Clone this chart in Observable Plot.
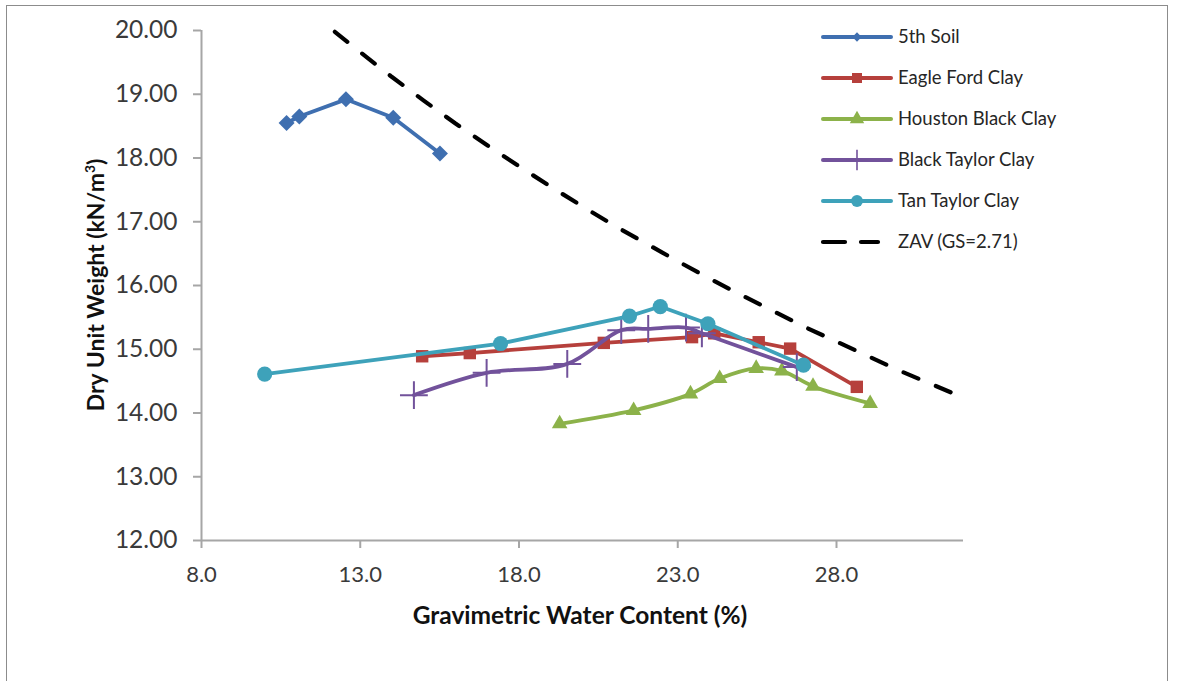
<!DOCTYPE html>
<html>
<head>
<meta charset="utf-8">
<script src="https://cdn.jsdelivr.net/npm/d3@7"></script>
<script src="https://cdn.jsdelivr.net/npm/@observablehq/plot@0.6"></script>
<style>
  body { margin: 0; background: #fff; }
  #chart { position: relative; width: 1177px; height: 681px; overflow: hidden; font-family: Lato, "Open Sans", sans-serif; }
  #frame { position: absolute; left: 6px; top: 5px; width: 1162px; height: 720px; border: 1.5px solid #8c8c8c; box-sizing: border-box; }
  #plot { position: absolute; left: 0; top: 0; }
  .axis-title { position: absolute; font-weight: 700; color: #111; white-space: nowrap; }
  #ytitle { left: 95px; top: 285px; transform: translate(-50%, -50%) rotate(-90deg); font-size: 23px; }
  #xtitle { left: 580px; top: 614px; transform: translate(-50%, -50%); font-size: 24.5px; }
  #legend { position: absolute; left: 0; top: 0; }
</style>
</head>
<body>
<div id="chart">
  <div id="frame"></div>
  <div id="plot"></div>
  <div class="axis-title" id="ytitle">Dry Unit Weight (kN/m<sup style="font-size:0.6em">3</sup>)</div>
  <div class="axis-title" id="xtitle">Gravimetric Water Content (%)</div>
  <svg id="legend" width="1177" height="681"></svg>
</div>
<script>
// Compaction curves: gravimetric water content (%) vs dry unit weight (kN/m³)
const fifthSoilW = [10.68, 11.08, 12.55, 14.04, 15.51];
const fifthSoilG = [18.55, 18.65, 18.92, 18.63, 18.07];

const eagleFordW = [14.95, 16.45, 20.67, 23.45, 24.15, 25.55, 26.54, 28.64];
const eagleFordG = [14.89, 14.94, 15.10, 15.19, 15.25, 15.11, 15.01, 14.41];

const houstonBlackW = [19.28, 21.61, 23.40, 24.32, 25.47, 26.28, 27.26, 29.06];
const houstonBlackG = [13.83, 14.04, 14.30, 14.54, 14.70, 14.66, 14.42, 14.15];

const blackTaylorW = [14.69, 16.98, 19.52, 21.22, 22.07, 23.26, 23.76, 26.75];
const blackTaylorG = [14.28, 14.63, 14.77, 15.30, 15.32, 15.34, 15.25, 14.72];

const tanTaylorW = [9.99, 17.42, 21.48, 22.45, 23.95, 26.96];
const tanTaylorG = [14.61, 15.09, 15.52, 15.67, 15.40, 14.75];

// Zero-air-voids line, Gs = 2.71
const zavW = [12.2, 13, 14, 15, 16, 17, 18, 19, 20, 21, 22, 23, 24, 25, 26, 27, 28, 29, 30, 31, 32];
const zavG = [19.98, 19.66, 19.27, 18.90, 18.54, 18.20, 17.87, 17.55, 17.24, 16.94, 16.66, 16.38,
              16.11, 15.85, 15.60, 15.35, 15.12, 14.89, 14.66, 14.45, 14.24];

const xTicks = [8, 13, 18, 23, 28];
const yTicks = [12, 13, 14, 15, 16, 17, 18, 19, 20];

const seriesNames = ["5th Soil", "Eagle Ford Clay", "Houston Black Clay", "Black Taylor Clay", "Tan Taylor Clay", "ZAV (GS=2.71)"];
const seriesColors = ["#3f6fb0", "#b6403c", "#8cb24a", "#72529b", "#3ea2ba", "#000000"];

const rows = (w, g) => w.map((d, i) => ({w: d, g: g[i]}));
const fifth = rows(fifthSoilW, fifthSoilG);
const eagle = rows(eagleFordW, eagleFordG);
const houston = rows(houstonBlackW, houstonBlackG);
const blackT = rows(blackTaylorW, blackTaylorG);
const tanT = rows(tanTaylorW, tanTaylorG);
const zav = rows(zavW, zavG);

const axisGray = "#a6a6a6";
const lw = 3.8;

const chart = Plot.plot({
  width: 1177,
  height: 681,
  marginLeft: 201,
  marginRight: 214,
  marginTop: 30,
  marginBottom: 141,
  style: {background: "transparent", overflow: "visible"},
  x: {domain: [8, 32]},
  y: {domain: [12, 20]},
  marks: [
    Plot.axisX({ticks: xTicks, tickFormat: d => d.toFixed(1), tickSize: 8, tickPadding: 18,
      stroke: axisGray, strokeWidth: 2, fill: "#3a3a3a", fontSize: 22, fontFamily: "Lato", label: null}),
    Plot.axisY({ticks: yTicks, tickFormat: d => d.toFixed(2), tickSize: 8, tickPadding: 16,
      stroke: axisGray, strokeWidth: 2, fill: "#3a3a3a", fontSize: 24.5, fontFamily: "Lato", label: null}),
    Plot.ruleX([8], {y1: 12, y2: 20, stroke: axisGray, strokeWidth: 2}),
    Plot.ruleY([12], {x1: 8, x2: 32, stroke: axisGray, strokeWidth: 2}),

    Plot.line(zav, {x: "w", y: "g", stroke: seriesColors[5], strokeWidth: 4.2, strokeDasharray: "16,19", strokeLinecap: "round"}),

    Plot.line(houston, {x: "w", y: "g", stroke: seriesColors[2], strokeWidth: lw, curve: "catmull-rom"}),
    Plot.dot(houston, {x: "w", y: "g", symbol: "triangle", r: 5.8, fill: seriesColors[2]}),

    Plot.line(eagle, {x: "w", y: "g", stroke: seriesColors[1], strokeWidth: lw}),
    Plot.dot(eagle, {x: "w", y: "g", symbol: "square", r: 7, fill: seriesColors[1]}),

    Plot.line(blackT, {x: "w", y: "g", stroke: seriesColors[3], strokeWidth: lw, curve: "catmull-rom"}),
    Plot.dot(blackT, {x: "w", y: "g", symbol: "plus", r: 9, stroke: seriesColors[3], strokeWidth: 2}),

    Plot.line(tanT, {x: "w", y: "g", stroke: seriesColors[4], strokeWidth: lw}),
    Plot.dot(tanT, {x: "w", y: "g", symbol: "circle", r: 7.6, fill: seriesColors[4]}),

    Plot.line(fifth, {x: "w", y: "g", stroke: seriesColors[0], strokeWidth: lw}),
    Plot.dot(fifth, {x: "w", y: "g", symbol: "diamond2", r: 7.2, fill: seriesColors[0]})
  ]
});
document.getElementById("plot").appendChild(chart);

// Legend on the right
const legend = d3.select("#legend");
const symbols = [d3.symbolDiamond2, d3.symbolSquare, d3.symbolTriangle, d3.symbolPlus, d3.symbolCircle, null];
const symSizes = [55, 100, 90, 140, 110, 0];
seriesNames.forEach((name, i) => {
  const y = 37 + i * 41;
  const g = legend.append("g").attr("transform", `translate(0,${y})`);
  if (i < 5) {
    g.append("line").attr("x1", 823).attr("x2", 891).attr("y1", 0).attr("y2", 0)
      .attr("stroke", seriesColors[i]).attr("stroke-width", 4).attr("stroke-linecap", "round");
    const p = g.append("path").attr("transform", "translate(857,0)")
      .attr("d", d3.symbol(symbols[i], symSizes[i])());
    if (i === 3) p.attr("fill", "none").attr("stroke", seriesColors[i]).attr("stroke-width", 1.6);
    else p.attr("fill", seriesColors[i]);
  } else {
    g.append("line").attr("x1", 823).attr("x2", 878).attr("y1", 0).attr("y2", 0)
      .attr("stroke", "#000").attr("stroke-width", 4.2).attr("stroke-dasharray", "22,16")
      .attr("stroke-linecap", "round");
  }
  g.append("text").attr("x", 898).attr("y", 0).attr("dy", "0.35em")
    .attr("font-family", "Lato").attr("font-size", 18.5).attr("fill", "#262626").text(name);
});
</script>
</body>
</html>
